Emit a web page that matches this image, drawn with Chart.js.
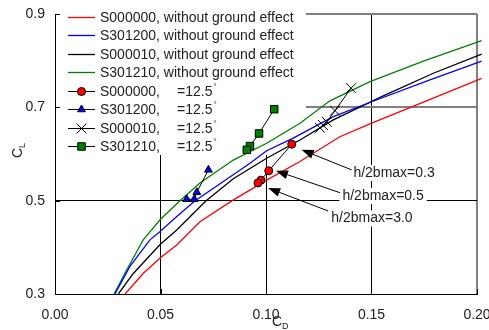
<!DOCTYPE html>
<html><head><meta charset="utf-8">
<script src="https://cdn.jsdelivr.net/npm/chart.js@4"></script>
<style>html,body{margin:0;padding:0;background:#fff;}</style>
</head><body>
<canvas id="c" width="489" height="330"></canvas>
<script>
// ---- data (CD, CL) ----
const cdS000000 = [0.0332,0.0418,0.0498,0.0577,0.0687,0.0840,0.1003,0.1161,0.1350,0.1501,0.1746,0.2022];
const clS000000 = [0.300,0.344,0.377,0.405,0.455,0.500,0.544,0.584,0.637,0.666,0.711,0.762];
const cdS301200 = [0.0284,0.0355,0.0450,0.0498,0.0577,0.0664,0.0798,0.0924,0.1003,0.1129,0.1319,0.1501,0.1777,0.2022];
const clS301200 = [0.300,0.359,0.416,0.434,0.466,0.500,0.541,0.580,0.607,0.634,0.680,0.712,0.759,0.799];
const cdS000010 = [0.0300,0.0371,0.0498,0.0577,0.0716,0.0845,0.1003,0.1161,0.1319,0.1548,0.1793,0.2022];
const clS000010 = [0.300,0.344,0.406,0.437,0.500,0.547,0.591,0.630,0.673,0.723,0.773,0.814];
const cdS301210 = [0.0280,0.0340,0.0418,0.0498,0.0592,0.0687,0.0845,0.1003,0.1161,0.1303,0.1493,0.1746,0.2022];
const clS301210 = [0.300,0.352,0.416,0.459,0.500,0.538,0.587,0.623,0.666,0.714,0.755,0.799,0.843];

const cdGE000000 = [0.1122,0.1013,0.0976,0.0962];
const clGE000000 = [0.621,0.564,0.544,0.538];
const cdGE301200 = [0.0727,0.0672,0.0660,0.0624];
const clGE301200 = [0.566,0.518,0.503,0.503];
const cdGE000010 = [0.1403,0.1327,0.1288,0.1270,0.1256];
const clGE000010 = [0.741,0.693,0.669,0.662,0.656];
const cdGE301210 = [0.1039,0.0967,0.0924,0.0909];
const clGE301210 = [0.696,0.644,0.617,0.609];

const xTicks = [0, 0.05, 0.10, 0.15, 0.20];
const yTicks = [0.3, 0.5, 0.7, 0.9];

const legendLabels = [
  "S000000, without ground effect",
  "S301200, without ground effect",
  "S000010, without ground effect",
  "S301210, without ground effect",
  "S000000,", "S301200,", "S000010,", "S301210,"
];
const angleText = "=12.5";

const noteLabels = ["h/2bmax=0.3","h/2bmax=0.5","h/2bmax=3.0"];
const noteTextX = [0.1607,0.1555,0.1502];
const noteTextY = [0.559,0.510,0.462];
const noteFromX = [0.1406,0.1351,0.1294];
const noteFromY = [0.566,0.517,0.478];
const noteTipX  = [0.1169,0.1047,0.1010];
const noteTipY  = [0.609,0.564,0.527];

const pts = (xs, ys) => xs.map((x, i) => ({x, y: ys[i]}));
const FONT = "'Liberation Sans', Arial, sans-serif";

function curve(label, xs, ys, color) {
  return {label, data: pts(xs, ys), showLine: true, borderColor: color, borderWidth: 1.3,
    pointRadius: 0, pointHoverRadius: 0, tension: 0, order: 2,
    clip: {left: 0, top: 0, right: 6, bottom: 0}};
}
function markers(label, xs, ys, style, r, fill) {
  return {label, data: pts(xs, ys), showLine: true, borderColor: '#000', borderWidth: 1,
    pointStyle: style, pointRadius: r, pointHoverRadius: r, pointBackgroundColor: fill,
    pointBorderColor: '#000', pointBorderWidth: 1, order: 1};
}

const near = (a, b) => Math.abs(a - b) < 1e-6;

function drawMarker(ctx, style, x, y, r, fill) {
  ctx.save();
  ctx.strokeStyle = '#000'; ctx.lineWidth = 1; ctx.fillStyle = fill;
  ctx.beginPath();
  if (style === 'circle') { ctx.arc(x, y, r, 0, Math.PI * 2); ctx.fill(); ctx.stroke(); }
  else if (style === 'triangle') {
    const s = r * Math.sqrt(3), h = s * Math.sqrt(3) / 2;
    ctx.moveTo(x - s / 2, y + h / 3); ctx.lineTo(x + s / 2, y + h / 3); ctx.lineTo(x, y - 2 * h / 3);
    ctx.closePath(); ctx.fill(); ctx.stroke();
  } else if (style === 'rect') {
    const s = r * Math.SQRT1_2; ctx.rect(x - s, y - s, 2 * s, 2 * s); ctx.fill(); ctx.stroke();
  } else if (style === 'crossRot') {
    const o = r * Math.SQRT1_2;
    ctx.moveTo(x - o, y - o); ctx.lineTo(x + o, y + o); ctx.moveTo(x - o, y + o); ctx.lineTo(x + o, y - o);
    ctx.stroke();
  }
  ctx.restore();
}

const decorPlugin = {
  id: 'decor',
  beforeDatasetsDraw(chart) {
    const {ctx, chartArea: a, scales} = chart;
    ctx.save();
    // legend box background hides gridlines under it
    ctx.fillStyle = '#fff';
    ctx.fillRect(a.left + 1, a.top - 2, 250, 143);
    // inside tick marks
    ctx.strokeStyle = '#000'; ctx.lineWidth = 1;
    ctx.beginPath();
    yTicks.forEach(v => { const y = Math.round(scales.y.getPixelForValue(v)) + 0.5; ctx.moveTo(a.left, y); ctx.lineTo(a.left + 5, y); });
    xTicks.forEach(v => { const x = Math.round(scales.x.getPixelForValue(v)) + 0.5; ctx.moveTo(x, a.bottom); ctx.lineTo(x, a.bottom - 5); });
    ctx.stroke();
    ctx.restore();
  },
  afterDatasetsDraw(chart) {
    const {ctx, chartArea: a, scales} = chart;
    const X = v => scales.x.getPixelForValue(v), Y = v => scales.y.getPixelForValue(v);
    ctx.save();
    // annotations
    ctx.font = '14px ' + FONT; ctx.textAlign = 'center'; ctx.textBaseline = 'middle';
    noteLabels.forEach((t, i) => {
      const tx = X(noteTextX[i]), ty = Y(noteTextY[i]);
      const w = ctx.measureText(t).width;
      ctx.fillStyle = '#fff'; ctx.fillRect(tx - w / 2 - 3, ty - 8, w + 6, 16);
      ctx.fillStyle = '#222'; ctx.fillText(t, tx, ty);
      const fx = X(noteFromX[i]), fy = Y(noteFromY[i]), px = X(noteTipX[i]), py = Y(noteTipY[i]);
      const ang = Math.atan2(py - fy, px - fx), L = 12, H = 4.5;
      const bx = px - L * Math.cos(ang), by = py - L * Math.sin(ang);
      ctx.strokeStyle = '#000'; ctx.lineWidth = 1;
      ctx.beginPath(); ctx.moveTo(fx, fy); ctx.lineTo(bx, by); ctx.stroke();
      ctx.fillStyle = '#000'; ctx.beginPath();
      ctx.moveTo(px, py);
      ctx.lineTo(bx + H * Math.sin(ang), by - H * Math.cos(ang));
      ctx.lineTo(bx - H * Math.sin(ang), by + H * Math.cos(ang));
      ctx.closePath(); ctx.fill();
    });
    // legend
    const lineColors = ['#ff0000', '#0000ff', '#000000', '#008000'];
    const mk = [['circle', 4, '#ff0000'], ['triangle', 4.5, '#0000ff'], ['crossRot', 7, '#000'], ['rect', 5.3, '#008000']];
    ctx.textAlign = 'left'; ctx.textBaseline = 'middle';
    legendLabels.forEach((t, i) => {
      const y = Math.round(a.top + 2.7 + i * 18.5) + 0.5;
      const x0 = a.left + 13, x1 = a.left + 40;
      ctx.strokeStyle = i < 4 ? lineColors[i] : '#000';
      ctx.lineWidth = i < 4 ? 1.3 : 1;
      ctx.beginPath(); ctx.moveTo(x0, y); ctx.lineTo(x1, y); ctx.stroke();
      if (i >= 4) drawMarker(ctx, mk[i - 4][0], (x0 + x1) / 2, y, mk[i - 4][1], mk[i - 4][2]);
      ctx.fillStyle = '#222'; ctx.font = '14px ' + FONT;
      ctx.fillText(t, a.left + 45, y + 1);
      if (i >= 4) {
        ctx.fillText(angleText, a.left + 122, y + 1);
        const w = ctx.measureText(angleText).width;
        ctx.font = '8px ' + FONT;
        ctx.fillText('°', a.left + 122 + w + 1, y - 5);
      }
    });
    ctx.restore();
  },
  afterDraw(chart) {
    const {ctx} = chart;
    ctx.save();
    ctx.fillStyle = '#222'; ctx.textBaseline = 'alphabetic'; ctx.textAlign = 'left';
    // x title C_D
    const cx = 272, cy = 326;
    ctx.font = '14px ' + FONT; ctx.fillText('C', cx, cy);
    const cw = ctx.measureText('C').width;
    ctx.font = '9px ' + FONT; ctx.fillText('D', cx + cw, cy + 3);
    // y title C_L
    ctx.translate(22, 158); ctx.rotate(-Math.PI / 2);
    ctx.font = '14px ' + FONT; ctx.fillText('C', 0, 0);
    ctx.font = '9px ' + FONT; ctx.fillText('L', cw, 3);
    ctx.restore();
  }
};

new Chart(document.getElementById('c'), {
  type: 'scatter',
  data: {datasets: [
    curve('S000000, without ground effect', cdS000000, clS000000, '#ff0000'),
    curve('S301200, without ground effect', cdS301200, clS301200, '#0000ff'),
    curve('S000010, without ground effect', cdS000010, clS000010, '#000000'),
    curve('S301210, without ground effect', cdS301210, clS301210, '#008000'),
    markers('S000000, =12.5', cdGE000000, clGE000000, 'circle', 4, '#ff0000'),
    markers('S301200, =12.5', cdGE301200, clGE301200, 'triangle', 4.5, '#0000ff'),
    markers('S000010, =12.5', cdGE000010, clGE000010, 'crossRot', 7, '#000'),
    markers('S301210, =12.5', cdGE301210, clGE301210, 'rect', 5.3, '#008000')
  ]},
  options: {
    responsive: false, animation: false, devicePixelRatio: 1,
    layout: {padding: {top: 14, right: 12, left: 0, bottom: 0}},
    plugins: {legend: {display: false}, tooltip: {enabled: false}},
    scales: {
      x: {
        type: 'linear', min: 0, max: 0.2,
        afterBuildTicks: s => { s.ticks = xTicks.map(v => ({value: v})); },
        afterFit: s => { s.height = 36; s.paddingLeft = 0; s.paddingRight = 0; },
        ticks: {callback: v => v.toFixed(2), font: {family: FONT, size: 14}, color: '#222', padding: 13, maxRotation: 0},
        grid: {drawTicks: false,
          color: c => (c.tick && near(c.tick.value, 0.2)) ? '#808080' : '#000',
          lineWidth: c => (c.tick && near(c.tick.value, 0.2)) ? 2 : 1},
        border: {color: '#000', width: 1}
      },
      y: {
        type: 'linear', min: 0.3, max: 0.9,
        afterBuildTicks: s => { s.ticks = yTicks.map(v => ({value: v})); },
        afterFit: s => { s.width = 55; s.paddingTop = 0; s.paddingBottom = 0; },
        ticks: {callback: v => v.toFixed(1), font: {family: FONT, size: 14}, color: '#222', padding: 10},
        grid: {drawTicks: false,
          color: c => (c.tick && (near(c.tick.value, 0.7) || near(c.tick.value, 0.9))) ? '#808080' : '#000',
          lineWidth: c => (c.tick && (near(c.tick.value, 0.7) || near(c.tick.value, 0.9))) ? 2 : 1},
        border: {color: '#000', width: 1}
      }
    }
  },
  plugins: [decorPlugin]
});
</script>
</body></html>
